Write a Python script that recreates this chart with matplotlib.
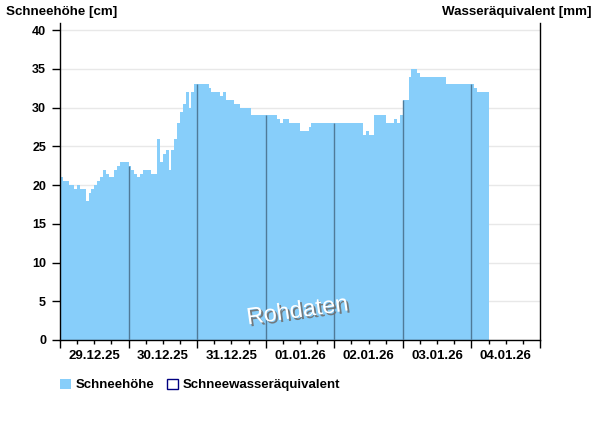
import matplotlib
matplotlib.use("Agg")
import matplotlib.pyplot as plt
import matplotlib.patheffects as pe
from matplotlib.patches import Patch
from matplotlib.ticker import FixedLocator, FuncFormatter
import numpy as np

plt.rcParams['font.family'] = ['Liberation Sans', 'DejaVu Sans']
plt.rcParams['font.weight'] = 'bold'

# hourly snow depth [cm], starting 29.12.25 00:00
schneehoehe = [
    21, 20.5, 20.5, 20, 20, 19.5, 20, 19.5, 19.5, 18,
    19, 19.5, 20, 20.5, 21, 22, 21.5, 21, 21, 22,
    22.5, 23, 23, 23, 22.5, 22, 21.5, 21, 21.5, 22,
    22, 22, 21.5, 21.5, 26, 23, 24, 24.5, 22, 24.5,
    26, 28, 29.5, 30.5, 32, 30, 32, 33, 33, 33,
    33, 33, 32.5, 32, 32, 32, 31.5, 32, 31, 31,
    31, 30.5, 30.5, 30, 30, 30, 30, 29, 29, 29,
    29, 29, 29, 29, 29, 29, 28.5, 28, 28.5, 28.5,
    28, 28, 28, 28, 27, 27, 27, 27.5, 28, 28,
    28, 28, 28, 28, 28, 28, 28, 28, 28, 28,
    28, 28, 28, 28, 28, 28, 26.5, 27, 26.5, 26.5,
    29, 29, 29, 29, 28, 28, 28, 28.5, 28, 29,
    31, 31, 34, 35, 35, 34.5, 34, 34, 34, 34,
    34, 34, 34, 34, 34, 33, 33, 33, 33, 33,
    33, 33, 33, 33, 33, 32.5, 32, 32, 32, 32,
]
tage = ['29.12.25', '30.12.25', '31.12.25', '01.01.26', '02.01.26', '03.01.26', '04.01.26']
y_ticks = [0, 5, 10, 15, 20, 25, 30, 35, 40]

fill_col = '#87cefa'
line_col = '#4f7a98'

fig = plt.figure(figsize=(6, 4.26), dpi=100)
ax = fig.add_axes([0.1, 0.2019, 0.8, 0.7452])

werte = np.array(schneehoehe)
edges = np.arange(len(werte) + 1)
ax.stairs(werte, edges, fill=True, color=fill_col, baseline=0, zorder=2)

# day separators drawn inside the bars
mitternacht = np.arange(24, len(werte), 24)
ax.vlines(mitternacht, 0, werte[mitternacht], color=line_col, lw=1, zorder=3)

ax.set_xlim(0, 24 * len(tage))
ax.set_ylim(0, 41)
ax.set_yticks(y_ticks)
ax.set_yticklabels([str(v) for v in y_ticks], fontsize=9, fontweight='bold')
ax.grid(axis='y', color='#e8e8e8', lw=1, zorder=0)
ax.set_axisbelow(True)

ax.xaxis.set_major_locator(FixedLocator(np.arange(0, 24 * len(tage) + 1, 24)))
ax.xaxis.set_major_formatter(FuncFormatter(lambda v, p: ''))
ax.xaxis.set_minor_locator(FixedLocator(np.arange(6, 24 * len(tage), 6)))


def tag_label(v, p):
    h = int(round(v))
    if h % 24 == 12:
        return tage[h // 24]
    return ''


ax.xaxis.set_minor_formatter(FuncFormatter(tag_label))
ax.tick_params(axis='x', which='major', length=6, width=1, direction='out')
ax.tick_params(axis='x', which='minor', length=3, width=1, direction='out',
               labelsize=9.5, pad=4)
ax.tick_params(axis='y', which='major', length=6, width=1, pad=4, right=False)
for lab in ax.get_xticklabels(minor=True):
    lab.set_fontweight('bold')

ax.spines['top'].set_visible(False)
for s in ['left', 'right', 'bottom']:
    ax.spines[s].set_color('black')
    ax.spines[s].set_linewidth(1)

fig.text(0.01, 0.985, 'Schneehöhe [cm]', ha='left', va='top', fontsize=9.6, fontweight='bold')
fig.text(0.985, 0.985, 'Wasseräquivalent [mm]', ha='right', va='top', fontsize=9.6, fontweight='bold')

ax.text(0.495, 0.09, 'Rohdaten', transform=ax.transAxes, ha='center', va='center',
        fontsize=17, fontweight='normal', color='white', rotation=8, zorder=5,
        path_effects=[pe.withSimplePatchShadow(offset=(1.5, -1.5), shadow_rgbFace='#707070', alpha=0.9)])

handles = [Patch(facecolor=fill_col, edgecolor='none'),
           Patch(facecolor='white', edgecolor='#000080', lw=1)]
fig.legend(handles, ['Schneehöhe', 'Schneewasseräquivalent'], loc='center left',
           bbox_to_anchor=(0.1, 0.096), ncol=2, frameon=False,
           handlelength=0.8, handleheight=0.8, handletextpad=0.35, columnspacing=1.0,
           borderpad=0, borderaxespad=0, prop={'weight': 'bold', 'size': 9.5})

fig.savefig('out.png', dpi=100)
